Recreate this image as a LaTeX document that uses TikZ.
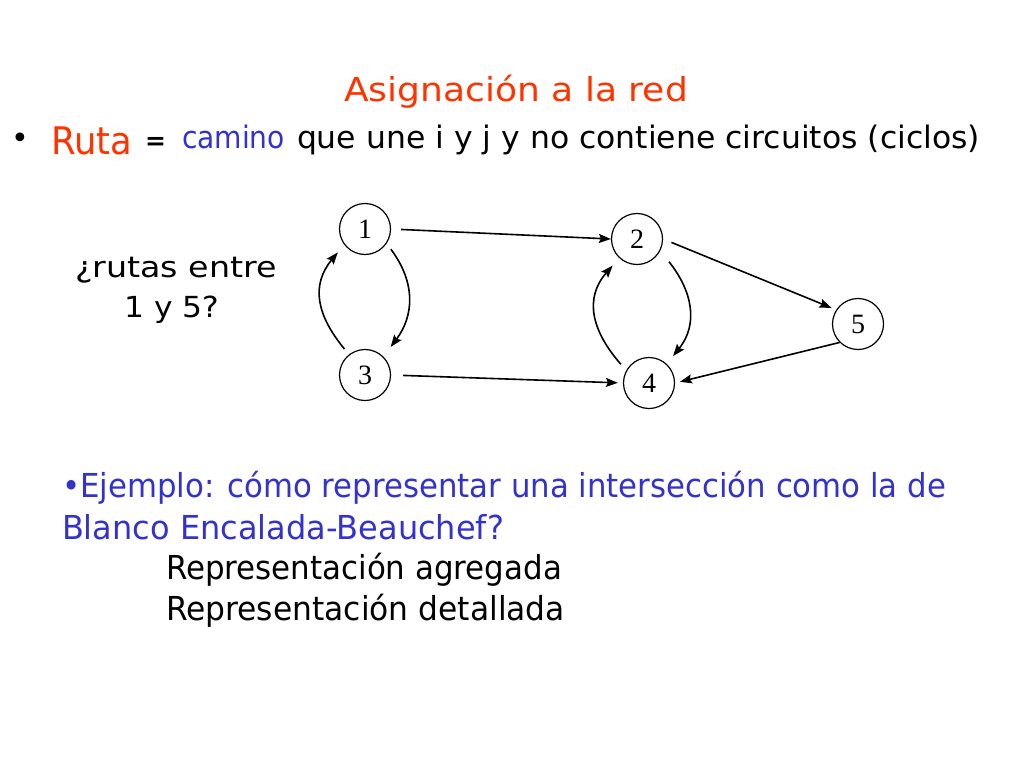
\documentclass[tikz,border=0pt]{standalone}
\usepackage{graphicx}
\usepackage{fontspec}
\setmainfont{DejaVu Sans}
\newfontfamily\numfont{Liberation Serif}
\usetikzlibrary{arrows.meta}
\definecolor{titlered}{RGB}{255,51,0}
\definecolor{textblue}{RGB}{51,51,204}
\newlength\fitlen
\newcommand\fitto[2]{\settowidth\fitlen{#2}\pgfmathsetmacro\fitratio{#1/\fitlen}\scalebox{\fitratio}[1]{#2}}
\newcommand\fsz[1]{\fontsize{#1}{#1}\selectfont}
\begin{document}
\begin{tikzpicture}[x=1pt,y=-1pt,
  vertex/.style={draw,circle,line width=1.2pt,minimum size=51pt,inner sep=0pt,font=\numfont\fsz{28}},
  edge/.style={line width=1.6pt,-{Stealth[length=12pt,width=9pt,inset=2pt]}},
  txt/.style={anchor=base west,inner sep=0pt,outer sep=0pt}]
\useasboundingbox (0,0) rectangle (1024,768);
\fill[white] (0,0) rectangle (1024,768);

% title and definition
\node[anchor=base,inner sep=0pt,text=titlered,font=\fsz{33}] (title) at (516,101) {\fitto{344}{Asignación a la red}};
\node[txt,font=\fsz{30}] (bul) at (12,148) {•};
\node[txt,text=titlered,font=\fsz{38}] (ruta) at (51,154) {\fitto{81}{Ruta}};
\node[txt,font=\bfseries\fsz{25}] (eq) at (145,149) {=};
\node[txt,text=textblue,font=\fsz{31}] (cam) at (182,148) {\fitto{103}{camino}};
\node[txt,font=\fsz{31}] (def) at (297,148) {\fitto{683}{que une i y j y no contiene circuitos (ciclos)}};

% question
\node[anchor=base,inner sep=0pt,font=\fsz{29}] (q1) at (176,277) {\fitto{202}{¿rutas entre}};
\node[anchor=base,inner sep=0pt,font=\fsz{29}] (q2) at (172,317) {\fitto{95}{1 y 5?}};

% graph
\node[vertex] (n1) at (365,229) {1};
\node[vertex] (n2) at (637,239) {2};
\node[vertex] (n3) at (365,375) {3};
\node[vertex] (n4) at (649,383) {4};
\node[vertex] (n5) at (858,324) {5};

\draw[edge,shorten <=10pt] (n1.east) -- (n2.west);
\draw[edge,shorten <=12pt,shorten >=5pt] (n3.east) -- (n4.west);
\draw[edge,shorten <=9pt,shorten >=5pt] (n2.east) -- (n5.147);
\draw[edge,shorten >=5pt] (n5.225) -- (n4.east);
\draw[edge,shorten <=7pt,shorten >=12pt] (n1.-34) .. controls +(30,40) and +(30,-40) .. (n3.45);
\draw[edge,shorten <=7pt,shorten >=10pt] (n3.128) .. controls +(-33,-40) and +(-33,40) .. (n1.217);
\draw[edge,shorten <=14pt,shorten >=10pt] (n2.-27) .. controls +(32,40) and +(32,-40) .. (n4.47);
\draw[edge,shorten <=8pt,shorten >=10pt] (n4.151) .. controls +(-35,-40) and +(-35,40) .. (n2.227);

% example
\node[txt,text=textblue,font=\fsz{33}] (ex1) at (62,497) {\fitto{884}{•Ejemplo: cómo representar una intersección como la de}};
\node[txt,text=textblue,font=\fsz{33}] (ex2) at (62,539) {\fitto{442}{Blanco Encalada-Beauchef?}};
\node[txt,font=\fsz{33}] (ex3) at (166,579) {\fitto{396}{Representación agregada}};
\node[txt,font=\fsz{33}] (ex4) at (166,620) {\fitto{399}{Representación detallada}};
\end{tikzpicture}
\end{document}
